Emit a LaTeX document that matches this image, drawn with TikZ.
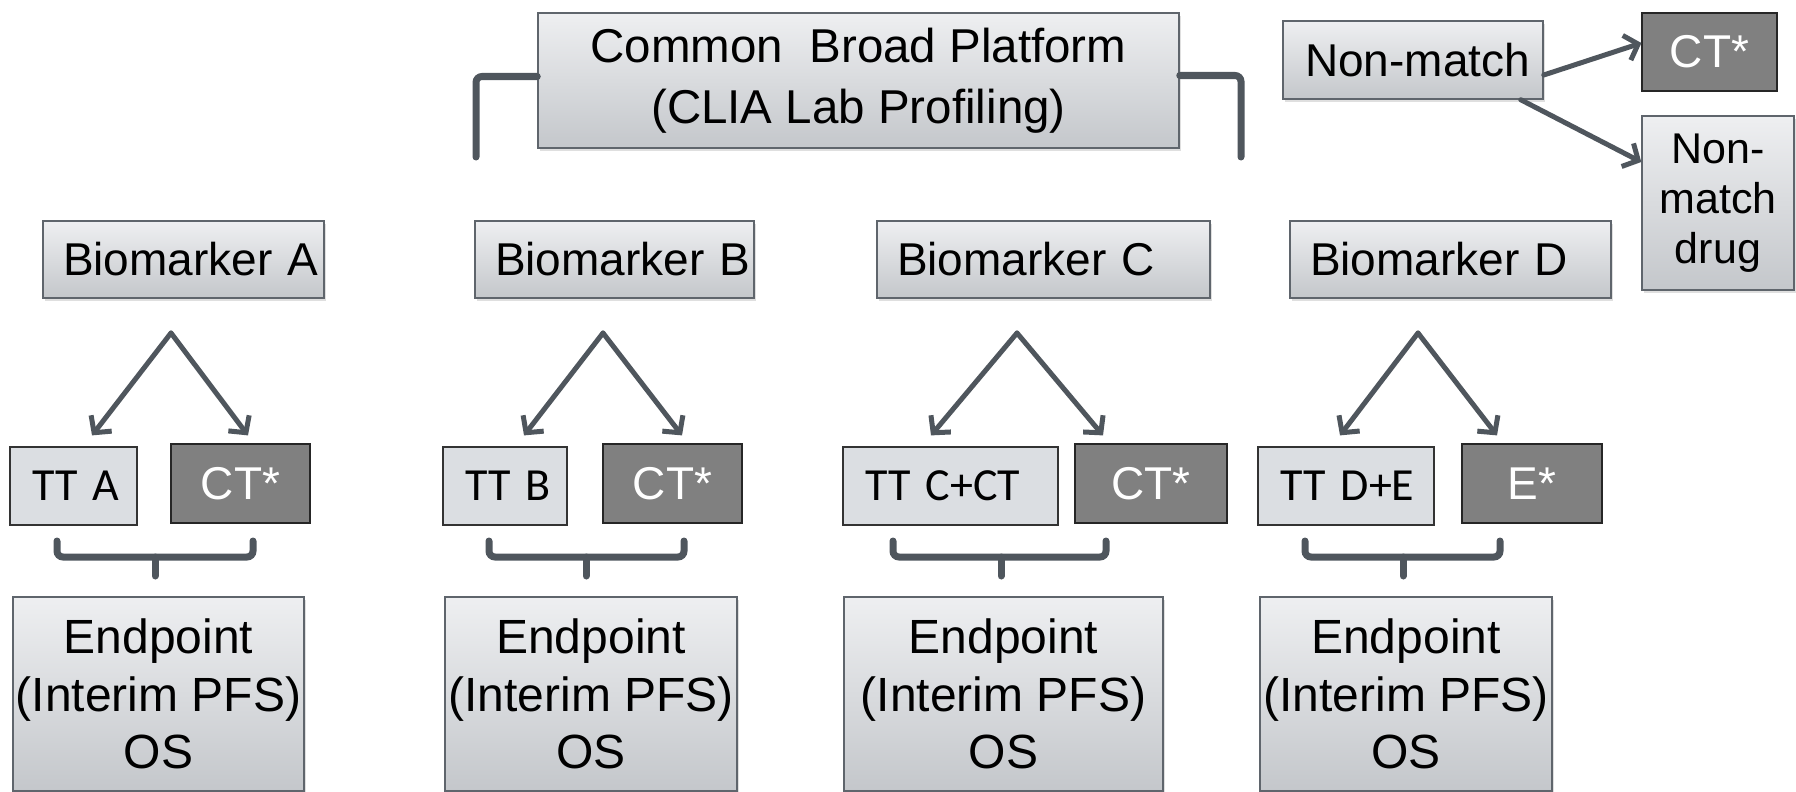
\documentclass[tikz,border=0pt]{standalone}
\usepackage{fontspec}
\setmainfont{Liberation Sans}
\newfontfamily\calfont{Carlito}
\usepackage{xcolor}
\definecolor{mytop}{RGB}{238,239,241}
\definecolor{mybot}{RGB}{196,199,203}
\definecolor{mylight}{RGB}{219,222,226}
\definecolor{mydark}{RGB}{128,128,128}
\definecolor{myslate}{RGB}{79,86,93}
\definecolor{myedge}{RGB}{95,101,108}
\usepackage{tikz}
\usetikzlibrary{arrows.meta,shadows}

\begin{document}
\begin{tikzpicture}[x=1pt,y=-1pt,line cap=round]
	\tikzstyle{grad}=[draw=myedge,line width=1.5pt,top color=mytop,bottom color=mybot,drop shadow={shadow xshift=2pt,shadow yshift=-3pt,opacity=0.25}];
	\tikzstyle{lbox}=[grad,align=left,inner xsep=20pt,inner ysep=0pt,minimum height=77pt,font=\fontsize{46}{55}\selectfont];
	\tikzstyle{cbox}=[grad,align=center,inner sep=0pt,font=\fontsize{48}{57.5}\selectfont];
	\tikzstyle{ttbox}=[draw=black!80,line width=1.2pt,fill=mylight,align=left,inner xsep=22pt,inner ysep=0pt,minimum height=78pt,font=\calfont\fontsize{46}{55}\selectfont];
	\tikzstyle{ctbox}=[draw=black!85,line width=1.2pt,fill=mydark,text=white,inner sep=0pt,minimum height=79pt,font=\fontsize{46}{55}\selectfont];
	\tikzstyle{arr}=[-{Straight Barb[length=12pt,width=26pt]},line width=5pt,myslate];
	\tikzstyle{brk}=[line width=7pt,myslate,rounded corners=6pt];
	\useasboundingbox (0,0) rectangle (1796,792);
	%% Platform
	\node[cbox,minimum width=641pt,minimum height=135pt,font=\fontsize{47.5}{61}\selectfont] (common) at (858.5,80.5) {Common\ \ Broad Platform\\(CLIA Lab Profiling)};
	\coordinate (platL) at (476,157);
	\coordinate (platR) at (1241,157);
	\draw[brk] ([yshift=4pt]common.west) -| (platL);
	\draw[brk] ([yshift=5pt]common.east) -| (platR);
	%% Non-match branch
	\node[lbox,inner xsep=22pt,text width=216pt,minimum height=78pt] (nonmatch) at (1413,60) {\mbox{Non-match}};
	\node[ctbox,minimum width=135pt,minimum height=78pt] (ctNM) at (1709.5,52) {CT*};
	\node[cbox,minimum width=152pt,minimum height=174pt,font=\fontsize{43}{50}\selectfont] (drugNM) at (1718,203) {Non-\\match\\drug};
	\draw[arr] ([yshift=-15pt]nonmatch.east) -- ([yshift=9pt]ctNM.west);
	\draw[arr] ([xshift=-23pt]nonmatch.south east) -- ([yshift=41pt]drugNM.west);
	%% Biomarkers
	\node[lbox,text width=241pt] (bmA) at (183.5,259.5) {\mbox{Biomarker A}};
	\node[lbox,text width=239pt] (bmB) at (614.5,259.5) {\mbox{Biomarker B}};
	\node[lbox,text width=293pt] (bmC) at (1043.5,259.5) {\mbox{Biomarker C}};
	\node[lbox,text width=281pt] (bmD) at (1450.5,259.5) {\mbox{Biomarker D}};
	%% Treatments
	\node[ttbox,text width=83pt] (ttA) at (73.5,486) {\mbox{TT A}};
	\node[ctbox,minimum width=139pt] (ctA) at (240.5,483.5) {CT*};
	\node[ttbox,text width=80pt] (ttB) at (505,486) {\mbox{TT B}};
	\node[ctbox,minimum width=139pt] (ctB) at (672.5,483.5) {CT*};
	\node[ttbox,text width=171pt] (ttC) at (950.5,486) {\mbox{TT C+CT}};
	\node[ctbox,minimum width=152pt] (ctC) at (1151,483.5) {CT*};
	\node[ttbox,text width=132pt] (ttD) at (1346,486) {\mbox{TT D+E}};
	\node[ctbox,minimum width=140pt] (eD) at (1532,483.5) {E*};
	%% Split arrows
	\coordinate (apexA) at (171,333);
	\coordinate (apexB) at (603,333);
	\coordinate (apexC) at (1017,333);
	\coordinate (apexD) at (1418,333);
	\draw[arr] (apexA) -- ([xshift=18.5pt,yshift=11pt]ttA.north);
	\draw[arr] (apexA) -- ([xshift=7.5pt,yshift=8pt]ctA.north);
	\draw[arr] (apexB) -- ([xshift=19pt,yshift=11pt]ttB.north);
	\draw[arr] (apexB) -- ([xshift=9.5pt,yshift=8pt]ctB.north);
	\draw[arr] (apexC) -- ([xshift=-19.5pt,yshift=11pt]ttC.north);
	\draw[arr] (apexC) -- ([xshift=-48pt,yshift=8pt]ctC.north);
	\draw[arr] (apexD) -- ([xshift=-6pt,yshift=11pt]ttD.north);
	\draw[arr] (apexD) -- ([xshift=-35pt,yshift=8pt]eD.north);
	%% Brackets
	\draw[brk] (57,541) |- (253,557) -- (253,541);
	\draw[brk] (155,557) -- (155,576);
	\draw[brk] (489,541) |- (684,557) -- (684,541);
	\draw[brk] (586,557) -- (586,576);
	\draw[brk] (893,541) |- (1106,557) -- (1106,541);
	\draw[brk] (1001,557) -- (1001,576);
	\draw[brk] (1305,541) |- (1500,557) -- (1500,541);
	\draw[brk] (1403,557) -- (1403,576);
	%% Endpoints
	\node[cbox,minimum width=291pt,minimum height=194pt] (epA) at (158.5,694) {Endpoint\\(Interim PFS)\\OS};
	\node[cbox,minimum width=292pt,minimum height=194pt] (epB) at (591,694) {Endpoint\\(Interim PFS)\\OS};
	\node[cbox,minimum width=319pt,minimum height=194pt] (epC) at (1003.5,694) {Endpoint\\(Interim PFS)\\OS};
	\node[cbox,minimum width=292pt,minimum height=194pt] (epD) at (1406,694) {Endpoint\\(Interim PFS)\\OS};
\end{tikzpicture}
\end{document}
